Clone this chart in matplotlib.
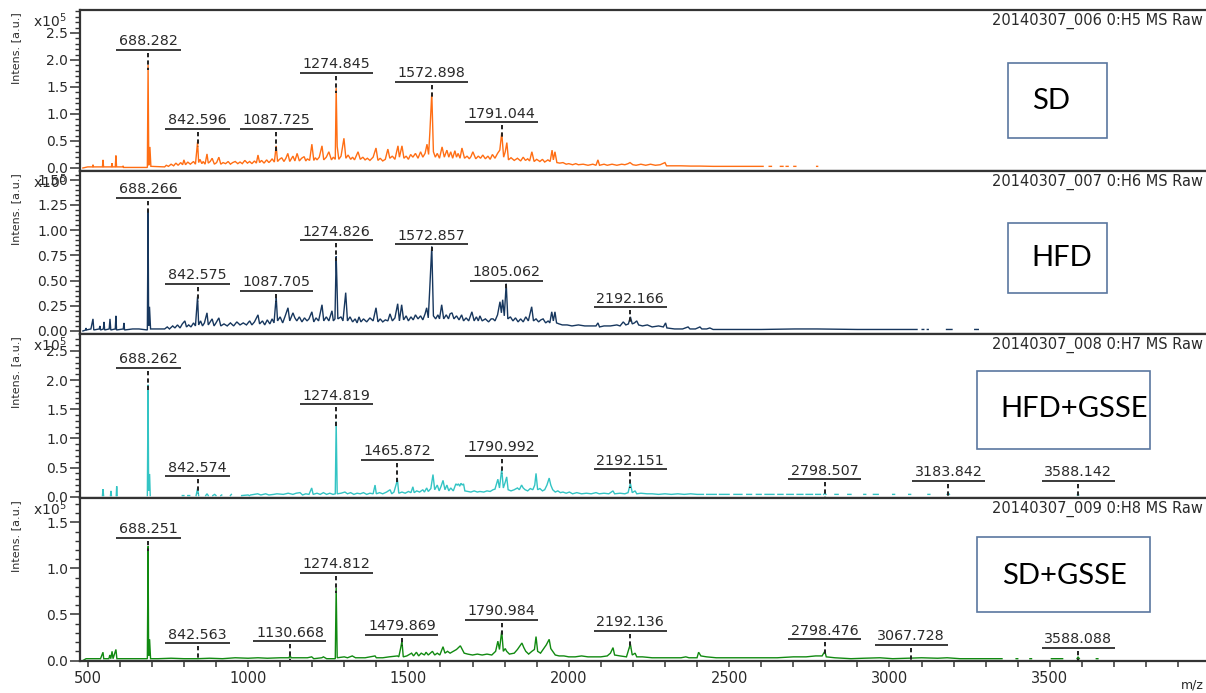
import numpy as np
import matplotlib
matplotlib.use('Agg')
import matplotlib.pyplot as plt
from matplotlib.patches import Rectangle
from matplotlib.ticker import MultipleLocator, FormatStrFormatter, FixedLocator

# ---------------- data (intensity in units of 1e5 a.u.) ----------------
NA = (None, None)
sd_spectrum = [(485,0.0),(500,0.02),(515,0.02),(516.5,0.06),(518,0.02),(546,0.02),(547.7,0.15),(549.5,0.02),
 (574,0.02),(575.7,0.09),(577.5,0.02),(586,0.02),(588,0.23),(590,0.02),(609,0.02),(610.5,0.04),(612,0.01),
 (686,0.01),(688.3,1.91),(690.5,0.05),(694,0.39),(697,0.03),(740,0.02),(745,0.05),(752,0.03),(760,0.07),
 (768,0.04),(775,0.09),(782,0.05),(790,0.1),(796,0.06),(800,0.15),(805,0.06),(812,0.11),(820,0.07),(830,0.12),
 (836,0.07),(842.6,0.48),(846,0.1),(850,0.16),(856,0.08),(860,0.12),(866,0.07),(872,0.26),(876,0.09),(882,0.12),
 (888,0.18),(895,0.07),(902,0.1),(909,0.2),(915,0.07),(922,0.1),(930,0.08),(938,0.12),(945,0.07),(952,0.1),
 (960,0.12),(968,0.08),(975,0.11),(982,0.08),(990,0.14),(998,0.09),(1005,0.12),(1012,0.08),(1020,0.13),
 (1026,0.09),(1031,0.24),(1036,0.1),(1042,0.14),(1050,0.09),(1058,0.15),(1065,0.1),(1070,0.13),(1075,0.17),
 (1082,0.11),(1087.7,0.41),(1092,0.12),(1098,0.16),(1105,0.19),(1112,0.12),(1118,0.18),(1124,0.27),(1130,0.12),
 (1135,0.17),(1140,0.22),(1146,0.13),(1153,0.27),(1160,0.13),(1167,0.18),(1175,0.21),(1180,0.13),(1185,0.17),
 (1192,0.14),(1199,0.44),(1205,0.14),(1210,0.19),(1215,0.15),(1222,0.2),(1230.6,0.41),(1236,0.15),(1244,0.2),
 (1252,0.3),(1260,0.15),(1266,0.2),(1272,0.16),(1274.8,1.48),(1278,0.4),(1283,0.16),(1290,0.22),(1299,0.55),
 (1305,0.18),(1312,0.24),(1320,0.16),(1326,0.2),(1332,0.15),(1343,0.3),(1350,0.16),(1358,0.2),(1365,0.15),
 (1372,0.18),(1380,0.14),(1390,0.2),(1399,0.37),(1405,0.14),(1412,0.18),(1420,0.13),(1428,0.16),(1436,0.35),
 (1442,0.18),(1450,0.22),(1458,0.16),(1467.5,0.41),(1472,0.2),(1480,0.41),(1486,0.18),(1493,0.22),(1500,0.16),
 (1507,0.25),(1514,0.2),(1522,0.27),(1530,0.18),(1538,0.3),(1545,0.2),(1552,0.27),(1558,0.44),(1563,0.25),
 (1567,0.67),(1572.9,1.39),(1578,0.3),(1584,0.2),(1590,0.27),(1597,0.18),(1605,0.39),(1612,0.2),(1620,0.33),
 (1626,0.2),(1632,0.3),(1638,0.18),(1645,0.32),(1650,0.2),(1655,0.27),(1661,0.18),(1667,0.37),(1675,0.18),
 (1683,0.22),(1690,0.17),(1695,0.21),(1701,0.3),(1710,0.17),(1718,0.22),(1725,0.18),(1732,0.24),(1740,0.17),
 (1748,0.22),(1755,0.16),(1762,0.25),(1770,0.18),(1778,0.27),(1785,0.33),(1791,0.65),(1797,0.2),(1802,0.3),
 (1807,0.47),(1812,0.15),(1820,0.19),(1830,0.14),(1840,0.18),(1850,0.13),(1858,0.2),(1865,0.14),(1872,0.17),
 (1878,0.13),(1885,0.3),(1892,0.12),(1900,0.16),(1910,0.12),(1918,0.16),(1925,0.11),(1935,0.15),(1942,0.12),
 (1948,0.33),(1952,0.15),(1957,0.3),(1963,0.1),(1972,0.09),(1982,0.1),(1992,0.07),(2000,0.08),(2012,0.06),
 (2022,0.08),(2030,0.06),(2045,0.07),(2060,0.05),(2075,0.07),(2085,0.05),(2091,0.15),(2096,0.05),(2110,0.07),
 (2120,0.05),(2135,0.07),(2150,0.05),(2165,0.07),(2175,0.06),(2185,0.08),(2191,0.1),(2200,0.06),(2210,0.05),
 (2225,0.07),(2240,0.05),(2255,0.07),(2270,0.05),(2285,0.06),(2300,0.1),(2305,0.04),(2330,0.04),(2350,0.04),
 (2380,0.035),(2409,0.035),(2450,0.03),(2500,0.03),(2550,0.03),(2606,0.03),NA,(2625,0.03),(2632,0.03),NA,
 (2660,0.03),(2668,0.03),NA,(2678,0.03),(2684,0.03),NA,(2702,0.03),(2708,0.03),NA,(2773,0.03),(2776,0.03)]

hfd_spectrum = [(485,0.0),(494,0.01),(494.7,0.03),(496,0.01),(510,0.02),(516.5,0.12),(519,0.01),(536,0.02),
 (538,0.05),(540,0.01),(549,0.02),(550.8,0.09),(553,0.01),(567,0.02),(569.5,0.12),(572,0.01),(586,0.02),
 (588,0.15),(590,0.01),(611,0.02),(613,0.08),(615,0.01),(640,0.02),(660,0.02),(686,0.01),(688.3,1.2),(690,0.05),
 (692.7,0.24),(696,0.02),(740,0.02),(748,0.04),(755,0.02),(765,0.05),(772,0.03),(780,0.06),(788,0.03),(795,0.07),
 (803,0.1),(808,0.04),(815,0.06),(822,0.04),(830,0.08),(836,0.05),(842.6,0.34),(846,0.06),(852,0.1),(858,0.05),
 (864,0.08),(872,0.18),(876,0.06),(882,0.09),(888,0.12),(894,0.05),(900,0.08),(909,0.13),(915,0.05),(925,0.07),
 (935,0.05),(945,0.08),(955,0.05),(965,0.09),(975,0.06),(985,0.08),(995,0.06),(1005,0.1),(1012,0.06),(1020,0.09),
 (1031,0.16),(1036,0.07),(1045,0.1),(1052,0.06),(1060,0.11),(1068,0.07),(1075,0.12),(1081,0.08),(1087.7,0.34),
 (1092,0.1),(1100,0.14),(1108,0.08),(1116,0.15),(1124.5,0.23),(1130,0.1),(1135,0.14),(1140,0.18),(1146,0.13),
 (1152,0.1),(1160,0.14),(1168,0.09),(1176,0.13),(1184,0.1),(1190,0.12),(1199,0.19),(1205,0.09),(1212,0.13),
 (1220,0.1),(1230.6,0.26),(1236,0.1),(1244,0.14),(1252,0.1),(1261.7,0.2),(1266,0.1),(1271,0.12),(1274.8,0.74),
 (1277,0.5),(1280,0.12),(1290,0.14),(1296,0.1),(1304.5,0.38),(1310,0.1),(1318,0.14),(1326,0.09),(1334,0.12),
 (1340,0.08),(1346,0.14),(1352,0.09),(1360,0.12),(1370,0.09),(1380,0.13),(1390,0.1),(1399,0.23),(1405,0.09),
 (1412,0.12),(1420,0.09),(1428,0.11),(1436,0.1),(1442.6,0.17),(1450,0.1),(1458,0.13),(1466.6,0.27),(1472,0.1),
 (1479,0.26),(1485,0.11),(1493,0.15),(1500,0.1),(1508,0.14),(1515,0.11),(1522,0.16),(1530,0.12),(1538,0.15),
 (1545,0.11),(1552,0.17),(1557,0.23),(1562,0.13),(1566,0.38),(1572.9,0.84),(1578,0.15),(1585,0.12),(1592,0.16),
 (1597,0.12),(1603.8,0.26),(1610,0.12),(1618,0.16),(1625,0.12),(1630,0.17),(1636,0.18),(1642,0.12),(1650,0.15),
 (1658,0.11),(1666,0.16),(1672,0.1),(1680,0.13),(1688,0.1),(1698,0.19),(1705,0.1),(1712,0.14),(1718,0.1),
 (1723,0.15),(1730,0.1),(1740,0.12),(1750,0.09),(1758,0.12),(1764,0.12),(1770,0.1),(1778,0.16),(1785.6,0.29),
 (1790,0.18),(1794,0.31),(1799,0.15),(1805,0.47),(1810,0.12),(1818,0.14),(1826,0.1),(1834,0.13),(1842,0.09),
 (1850,0.12),(1858,0.09),(1866,0.14),(1874,0.1),(1884.4,0.24),(1890,0.1),(1898,0.12),(1906,0.09),(1913,0.11),
 (1920,0.12),(1928,0.08),(1936,0.1),(1941,0.08),(1947,0.19),(1952,0.1),(1957,0.19),(1962,0.08),(1970,0.07),
 (1980,0.06),(1995,0.06),(2010,0.05),(2030,0.06),(2050,0.05),(2070,0.05),(2085,0.05),(2091,0.08),(2096,0.04),
 (2110,0.05),(2130,0.05),(2150,0.06),(2160,0.05),(2170,0.09),(2178,0.06),(2186,0.07),(2192.2,0.14),(2198,0.07),
 (2205,0.08),(2212,0.1),(2218,0.06),(2230,0.05),(2245,0.06),(2260,0.04),(2280,0.05),(2295,0.04),(2302,0.08),
 (2306,0.03),(2330,0.02),(2355,0.02),(2372,0.04),(2378,0.02),(2395,0.02),(2409,0.04),(2415,0.02),(2430,0.02),
 (2440,0.03),(2450,0.015),(2600,0.015),(2705,0.02),(2774,0.02),(2900,0.015),(3000,0.015),(3086,0.015),NA,
 (3102,0.015),(3107,0.015),NA,(3118,0.015),(3121,0.015),NA,(3178,0.015),(3195,0.015),NA,(3266,0.015),
 (3270,0.015),NA,(3274,0.015),(3277,0.015)]

hfd_gsse_spectrum = [(546,0.02),(547.7,0.13),(549.5,0.02),NA,(571,0.02),(572.6,0.1),(574,0.02),NA,(589,0.02),
 (590.4,0.18),(592,0.02),NA,(686,0.02),(688.3,1.92),(690,0.1),(693,0.39),(695,0.02),NA,(795,0.02),(800,0.02),NA,
 (812,0.02),(818,0.02),NA,(838,0.02),(842.6,0.14),(846,0.02),NA,(868,0.02),(872,0.05),(876,0.02),NA,(890,0.02),
 (896,0.04),(900,0.02),NA,(915,0.02),(918,0.03),NA,(945,0.02),(948,0.04),NA,(980,0.02),(1000,0.03),(1004,0.02),NA,
 (1008,0.03),(1030,0.05),(1040,0.03),(1055,0.05),(1065,0.03),(1080,0.04),(1090,0.05),(1110,0.04),(1125,0.06),
 (1140,0.04),(1150,0.06),(1162,0.07),(1170,0.03),(1180,0.05),(1190,0.04),(1198.5,0.15),(1203,0.04),(1215,0.06),
 (1225,0.04),(1235,0.07),(1245,0.04),(1255,0.06),(1265,0.04),(1272,0.05),(1274.8,1.29),(1278,0.05),(1290,0.06),
 (1302,0.08),(1310,0.05),(1320,0.07),(1330,0.04),(1340,0.06),(1350,0.05),(1360,0.07),(1370,0.04),(1380,0.06),
 (1390,0.05),(1396,0.2),(1400,0.05),(1410,0.07),(1420,0.05),(1432,0.08),(1443,0.12),(1448,0.05),(1455,0.08),
 (1465.9,0.29),(1470,0.06),(1480,0.08),(1490,0.06),(1500,0.09),(1508,0.07),(1514,0.17),(1518,0.07),(1526,0.1),
 (1535,0.08),(1545,0.12),(1550,0.08),(1557,0.15),(1562,0.09),(1570,0.14),(1576.7,0.38),(1582,0.12),(1590,0.2),
 (1596,0.1),(1602,0.18),(1608,0.28),(1614,0.12),(1620,0.2),(1626,0.1),(1632,0.15),(1640,0.1),(1648,0.22),
 (1652,0.2),(1656,0.22),(1660,0.18),(1664,0.23),(1668,0.2),(1672,0.22),(1676,0.1),(1685,0.09),(1695,0.08),
 (1705,0.1),(1715,0.08),(1723,0.09),(1735,0.08),(1745,0.1),(1755,0.09),(1764,0.12),(1770,0.13),(1779,0.3),
 (1784,0.15),(1791,0.47),(1796,0.15),(1802,0.25),(1806.5,0.34),(1811,0.12),(1820,0.1),(1830,0.12),(1840,0.15),
 (1846,0.12),(1853,0.2),(1858,0.15),(1864,0.12),(1872,0.1),(1880,0.14),(1888,0.12),(1894,0.2),(1898,0.4),
 (1903,0.12),(1910,0.14),(1918,0.1),(1925,0.12),(1932,0.2),(1939,0.32),(1944,0.2),(1950,0.12),(1958,0.08),
 (1966,0.1),(1974,0.07),(1982,0.08),(1992,0.06),(2002,0.08),(2012,0.05),(2025,0.07),(2040,0.05),(2055,0.06),
 (2070,0.05),(2085,0.07),(2095,0.05),(2110,0.06),(2125,0.05),(2138,0.1),(2143,0.05),(2160,0.06),(2175,0.05),
 (2185,0.07),(2192.2,0.23),(2198,0.07),(2207,0.1),(2212,0.05),(2225,0.06),(2244,0.05),(2260,0.05),(2280,0.04),
 (2300,0.05),(2320,0.04),(2340,0.05),(2360,0.04),(2380,0.05),(2400,0.04),(2420,0.04),NA,(2430,0.04),(2460,0.04),NA,
 (2470,0.04),(2500,0.04),NA,(2515,0.04),(2540,0.04),NA,(2555,0.04),(2570,0.04),NA,(2585,0.04),(2600,0.04),NA,
 (2612,0.04),(2640,0.04),NA,(2652,0.04),(2668,0.04),NA,(2680,0.04),(2700,0.04),NA,(2712,0.04),(2730,0.04),NA,
 (2740,0.04),(2760,0.04),NA,(2770,0.04),(2785,0.04),NA,(2795,0.04),(2798.5,0.06),(2802,0.04),NA,(2830,0.04),
 (2840,0.04),NA,(2870,0.04),(2880,0.04),NA,(2920,0.04),(2926,0.04),NA,(2950,0.04),(2965,0.04),NA,(3010,0.04),
 (3016,0.04),NA,(3060,0.04),(3066,0.04),NA,(3120,0.04),(3126,0.04),NA,(3180,0.04),(3183.8,0.06),(3187,0.04),NA,
 (3586,0.03),(3590,0.03)]

sd_gsse_spectrum = [(485,0.0),(495,0.02),(540,0.02),(547.7,0.09),(550,0.02),(566,0.02),(569,0.06),(572,0.02),
 (576,0.1),(579,0.02),(588,0.12),(591,0.02),(620,0.02),(686,0.02),(688.3,1.24),(690,0.05),(693,0.23),(696,0.02),
 (720,0.02),(760,0.025),(800,0.02),(842.6,0.02),(880,0.025),(920,0.02),(960,0.03),(1000,0.025),(1031,0.03),
 (1060,0.025),(1100,0.03),(1128,0.03),(1130.7,0.06),(1134,0.03),(1160,0.03),(1185,0.03),(1198.5,0.04),(1205,0.02),
 (1230,0.03),(1235,0.04),(1245,0.02),(1272,0.02),(1274.8,0.79),(1278,0.03),(1300,0.04),(1310,0.03),(1325,0.05),
 (1335,0.03),(1350,0.03),(1365,0.03),(1396,0.05),(1400,0.03),(1420,0.03),(1440,0.04),(1466,0.05),(1470,0.04),
 (1475,0.12),(1479.9,0.21),(1484,0.04),(1495,0.05),(1510,0.08),(1516,0.05),(1525,0.09),(1532,0.05),(1540,0.08),
 (1550,0.06),(1555,0.09),(1562,0.06),(1575,0.1),(1582,0.06),(1590,0.08),(1598,0.06),(1608,0.15),(1614,0.08),
 (1622,0.1),(1630,0.08),(1640,0.1),(1650,0.12),(1656,0.14),(1662,0.16),(1668,0.12),(1674,0.08),(1685,0.07),
 (1700,0.06),(1715,0.07),(1730,0.06),(1745,0.07),(1760,0.06),(1772,0.1),(1779,0.21),(1784,0.12),(1791,0.32),
 (1796,0.1),(1802,0.13),(1806.5,0.1),(1815,0.07),(1830,0.08),(1840,0.12),(1848,0.16),(1854,0.19),(1860,0.14),
 (1866,0.1),(1875,0.07),(1885,0.1),(1893,0.12),(1898,0.26),(1903,0.1),(1912,0.08),(1920,0.12),(1930,0.17),
 (1939,0.23),(1944,0.13),(1950,0.1),(1958,0.06),(1970,0.05),(1985,0.05),(2000,0.04),(2020,0.04),(2040,0.05),
 (2060,0.04),(2080,0.04),(2100,0.04),(2120,0.05),(2130,0.08),(2138,0.14),(2143,0.06),(2160,0.05),(2180,0.04),
 (2192.1,0.18),(2198,0.06),(2207,0.08),(2212,0.04),(2230,0.04),(2260,0.03),(2290,0.03),(2320,0.03),(2350,0.03),
 (2365,0.04),(2375,0.03),(2400,0.03),(2405,0.09),(2412,0.05),(2430,0.04),(2460,0.03),(2500,0.03),(2550,0.03),
 (2600,0.03),(2650,0.03),(2700,0.04),(2740,0.04),(2770,0.05),(2790,0.05),(2798.5,0.1),(2803,0.04),(2830,0.03),
 (2880,0.02),(2920,0.025),(2970,0.03),(3010,0.02),(3060,0.025),(3100,0.03),(3150,0.025),(3180,0.03),(3220,0.02),
 (3280,0.02),(3351,0.02),NA,(3395,0.02),(3400,0.02),NA,(3438,0.02),(3443,0.02),NA,(3505,0.02),(3540,0.02),NA,
 (3585,0.02),(3588.1,0.04),(3592,0.02),NA,(3645,0.02),(3650,0.02)]

spectra = [sd_spectrum, hfd_spectrum, hfd_gsse_spectrum, sd_gsse_spectrum]

sd_label_mz = [688.282, 842.596, 1087.725, 1274.845, 1572.898, 1791.044]
sd_label_y = [2.19, 0.73, 0.73, 1.76, 1.60, 0.85]
hfd_label_mz = [688.266, 842.575, 1087.705, 1274.826, 1572.857, 1805.062, 2192.166]
hfd_label_y = [1.32, 0.47, 0.40, 0.90, 0.86, 0.50, 0.235]
hfd_gsse_label_mz = [688.262, 842.574, 1274.819, 1465.872, 1790.992, 2192.151, 2798.507, 3183.842, 3588.142]
hfd_gsse_label_y = [2.21, 0.355, 1.585, 0.63, 0.70, 0.47, 0.30, 0.27, 0.27]
sd_gsse_label_mz = [688.251, 842.563, 1130.668, 1274.812, 1479.869, 1790.984, 2192.136, 2798.476, 3067.728, 3588.088]
sd_gsse_label_y = [1.33, 0.19, 0.21, 0.955, 0.28, 0.44, 0.325, 0.23, 0.17, 0.14]

label_mz = [sd_label_mz, hfd_label_mz, hfd_gsse_label_mz, sd_gsse_label_mz]
label_y = [sd_label_y, hfd_label_y, hfd_gsse_label_y, sd_gsse_label_y]

group_names = ["SD", "HFD", "HFD+GSSE", "SD+GSSE"]
run_titles = ["20140307_006 0:H5 MS Raw", "20140307_007 0:H6 MS Raw",
              "20140307_008 0:H7 MS Raw", "20140307_009 0:H8 MS Raw"]
colors = ["#FF6E14", "#17375E", "#33C4C4", "#118A11"]
x_tick_values = [500, 1000, 1500, 2000, 2500, 3000, 3500]

# ---------------- layout (pixels) ----------------
W, H = 1206, 693
fig = plt.figure(figsize=(W / 100, H / 100), dpi=100)

def fx(px):
    return px / W

def fy(py):
    return 1 - py / H

panel_px = [(10, 171), (171, 334), (334, 498), (498, 661)]
ax_left, ax_right = 80, 1218
xlim = (476.0, 4024.5)
ylims = [(-0.056, 2.926), (-0.030, 1.587), (-0.022, 2.791), (-0.005, 1.764)]
ymajor = [0.5, 0.25, 0.5, 0.5]
yminor = [0.1, 0.05, 0.1, 0.1]
yfmt = ['%.1f', '%.2f', '%.1f', '%.1f']
boxes = [(1008, 63, 1107, 138), (1008, 223, 1107, 293), (977, 371, 1150, 449), (977, 537, 1150, 612)]
box_text_xy = [(1051, 101), (1062, 258), (1074, 409), (1064, 576)]

spine_c = '#333333'
text_c = '#2a2a2a'
px_per_mz = (ax_right - ax_left) / (xlim[1] - xlim[0])

for i in range(4):
    top, bot = panel_px[i]
    ax = fig.add_axes([fx(ax_left), fy(bot), (ax_right - ax_left) / W, (bot - top) / H])
    ax.set_xlim(*xlim)
    ax.set_ylim(*ylims[i])
    px_per_y = (bot - top) / (ylims[i][1] - ylims[i][0])

    pts = spectra[i]
    mz = np.array([np.nan if p[0] is None else p[0] for p in pts], dtype=float)
    it = np.array([np.nan if p[1] is None else p[1] for p in pts], dtype=float)
    ax.plot(mz, it, color=colors[i], lw=1.0, solid_joinstyle='miter', zorder=2)

    for sp in ['left', 'top', 'bottom']:
        ax.spines[sp].set_color(spine_c)
        ax.spines[sp].set_linewidth(1.6)
    ax.spines['right'].set_visible(False)

    ax.yaxis.set_major_locator(MultipleLocator(ymajor[i]))
    ax.yaxis.set_minor_locator(MultipleLocator(yminor[i]))
    ax.yaxis.set_major_formatter(FormatStrFormatter(yfmt[i]))
    ax.tick_params(axis='y', which='major', direction='out', length=7, width=1.1,
                   colors=spine_c, labelsize=10, pad=1.5, labelcolor=text_c)
    ax.tick_params(axis='y', which='minor', direction='out', length=3.5, width=1.0, colors=spine_c)

    if i < 3:
        ax.tick_params(axis='x', which='both', bottom=False, labelbottom=False)
    else:
        ax.xaxis.set_major_locator(FixedLocator(x_tick_values))
        ax.xaxis.set_minor_locator(MultipleLocator(100))
        ax.tick_params(axis='x', which='both', direction='out', length=4.5, width=1.1,
                       colors=spine_c, labelsize=10.5, pad=3, labelcolor=text_c)

    # peak labels
    for m, yl in zip(label_mz[i], label_y[i]):
        s = f"{m:.3f}"
        halfw = (8 * len(s) + 9) / 2 / px_per_mz
        ax.plot([m - halfw, m + halfw], [yl, yl], color='#2b2b2b', lw=1.3,
                solid_capstyle='butt', zorder=4)
        ax.text(m, yl + 1.5 / px_per_y, s, ha='center', va='bottom', fontsize=10.3,
                color=text_c, zorder=5)
        sel = np.abs(mz - m) < 4
        vals = it[sel]
        vals = vals[~np.isnan(vals)]
        ytop = vals.max() if vals.size else 0.03
        y_end = ytop - 5 / px_per_y
        ax.plot([m, m], [yl - 3 / px_per_y, y_end], color='#222222', lw=1.4,
                linestyle=(0, (2.2, 1.6)), zorder=3)

    # side texts
    fig.text(fx(16), fy(top + 38), "Intens. [a.u.]", rotation=90, ha='center', va='center',
             fontsize=8, color=text_c)
    fig.text(fx(33), fy(top + 11), r"x10$^{5}$", ha='left', va='center', fontsize=10, color=text_c)
    fig.text(fx(1203), fy(top + 11), run_titles[i], ha='right', va='center', fontsize=10.5,
             color=text_c)

    # group box
    x0, y0, x1, y1 = boxes[i]
    fig.add_artist(Rectangle((fx(x0), fy(y1)), (x1 - x0) / W, (y1 - y0) / H,
                             transform=fig.transFigure, facecolor='white',
                             edgecolor='#5A77A0', lw=1.2, zorder=10))
    tx, ty = box_text_xy[i]
    fig.text(fx(tx), fy(ty), group_names[i], ha='center', va='center', fontsize=21,
             family=['Lato', 'DejaVu Sans'], color='black', zorder=11)

fig.text(fx(1181), fy(692), "m/z", ha='left', va='bottom', fontsize=9, color=text_c)

fig.savefig('out.png', dpi=100)
